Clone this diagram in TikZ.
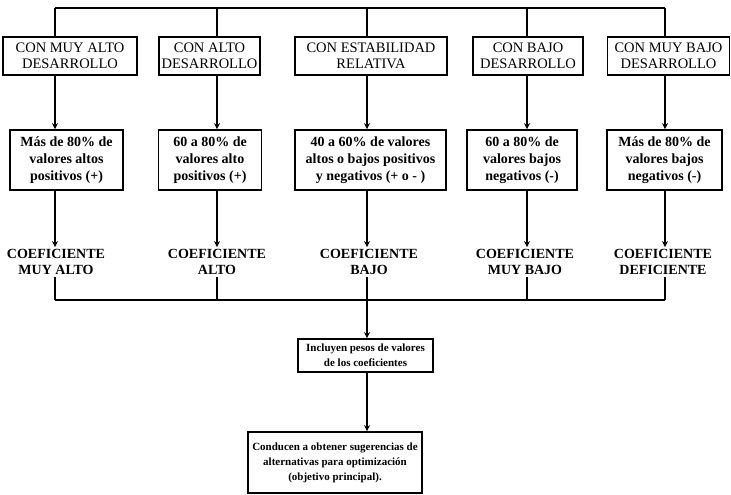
\documentclass[tikz,border=0pt]{standalone}
\usepackage{fontspec}
\setmainfont{Liberation Serif}
\usetikzlibrary{arrows.meta}
\tikzset{
  topbox/.style={draw, line width=1.6pt, inner sep=1pt, align=center, font=\fontsize{14.5}{16}\selectfont},
  midbox/.style={draw, line width=1.6pt, inner sep=1pt, align=center, font=\bfseries\fontsize{14}{17}\selectfont},
  lowbox/.style={draw, line width=1.6pt, inner sep=1pt, align=center, font=\bfseries\fontsize{11}{15}\selectfont},
  coef/.style={inner sep=2pt, align=center, font=\bfseries\fontsize{14}{16}\selectfont},
  conn/.style={line width=1.4pt},
  arr/.style={line width=1.4pt, -{Stealth[length=6pt,width=6pt]}}
}
\begin{document}
\begin{tikzpicture}[x=1pt,y=-1pt]
\useasboundingbox (0,0) rectangle (731,495);
% column coordinates
\coordinate (t1) at (55,8);
\coordinate (t2) at (217,8);
\coordinate (t3) at (367,8);
\coordinate (t4) at (527,8);
\coordinate (t5) at (665,8);
\coordinate (u1) at (55,300);
\coordinate (u3) at (367,300);
\coordinate (u5) at (665,300);
% top boxes
\node[topbox, minimum width=134pt, minimum height=38pt] (b1) at (70,56) {CON MUY ALTO\\DESARROLLO};
\node[topbox, minimum width=101pt, minimum height=38pt] (b2) at (209.5,56) {CON ALTO\\DESARROLLO};
\node[topbox, minimum width=152pt, minimum height=38pt] (b3) at (371,56) {CON ESTABILIDAD\\RELATIVA};
\node[topbox, minimum width=110pt, minimum height=38pt] (b4) at (528,56) {CON BAJO\\DESARROLLO};
\node[topbox, minimum width=122pt, minimum height=38pt] (b5) at (668.5,56) {CON MUY BAJO\\DESARROLLO};
% second row
\node[midbox, minimum width=113pt, minimum height=60pt] (s1) at (66.5,160) {Más de 80\% de\\valores altos\\positivos (+)};
\node[midbox, minimum width=103pt, minimum height=60pt] (s2) at (210,160) {60 a 80\% de\\valores alto\\positivos (+)};
\node[midbox, minimum width=151pt, minimum height=60pt] (s3) at (370.5,160) {40 a 60\% de valores\\altos o bajos positivos\\y negativos (+ o - )};
\node[midbox, minimum width=110pt, minimum height=60pt] (s4) at (522,160) {60 a 80\% de\\valores bajos\\negativos (-)};
\node[midbox, minimum width=115pt, minimum height=60pt] (s5) at (664.5,160) {Más de 80\% de\\valores bajos\\negativos (-)};
% coefficient labels
\node[coef] (k1) at (56,262) {COEFICIENTE\\MUY ALTO};
\node[coef] (k2) at (217,262) {COEFICIENTE\\ALTO};
\node[coef] (k3) at (369,262) {COEFICIENTE\\BAJO};
\node[coef] (k4) at (525,262) {COEFICIENTE\\MUY BAJO};
\node[coef] (k5) at (663,262) {COEFICIENTE\\DEFICIENTE};
% lower boxes
\node[lowbox, minimum width=135pt, minimum height=33pt] (inc) at (365.5,355.5) {Incluyen pesos de valores\\de los coeficientes};
\node[lowbox, minimum width=174pt, minimum height=61pt] (con) at (335,462.5) {Conducen a obtener sugerencias de\\alternativas para optimización\\(objetivo principal).};
% top distribution line
\draw[conn] (t1) -- (t5);
\foreach \i in {1,...,5}{
  \draw[conn] (t\i) -- (b\i.north -| t\i);
  \draw[arr] (b\i.south -| t\i) -- (s\i.north -| t\i);
  \draw[arr] (s\i.south -| t\i) -- (k\i.north -| t\i);
  \draw[conn] (k\i.south -| t\i) -- (t\i |- u1);
}
% bottom collecting line
\draw[conn] (u1) -- (u5);
\draw[arr] (u3) -- (inc.north -| u3);
\draw[arr] (inc.south -| u3) -- (con.north -| u3);
\end{tikzpicture}
\end{document}
